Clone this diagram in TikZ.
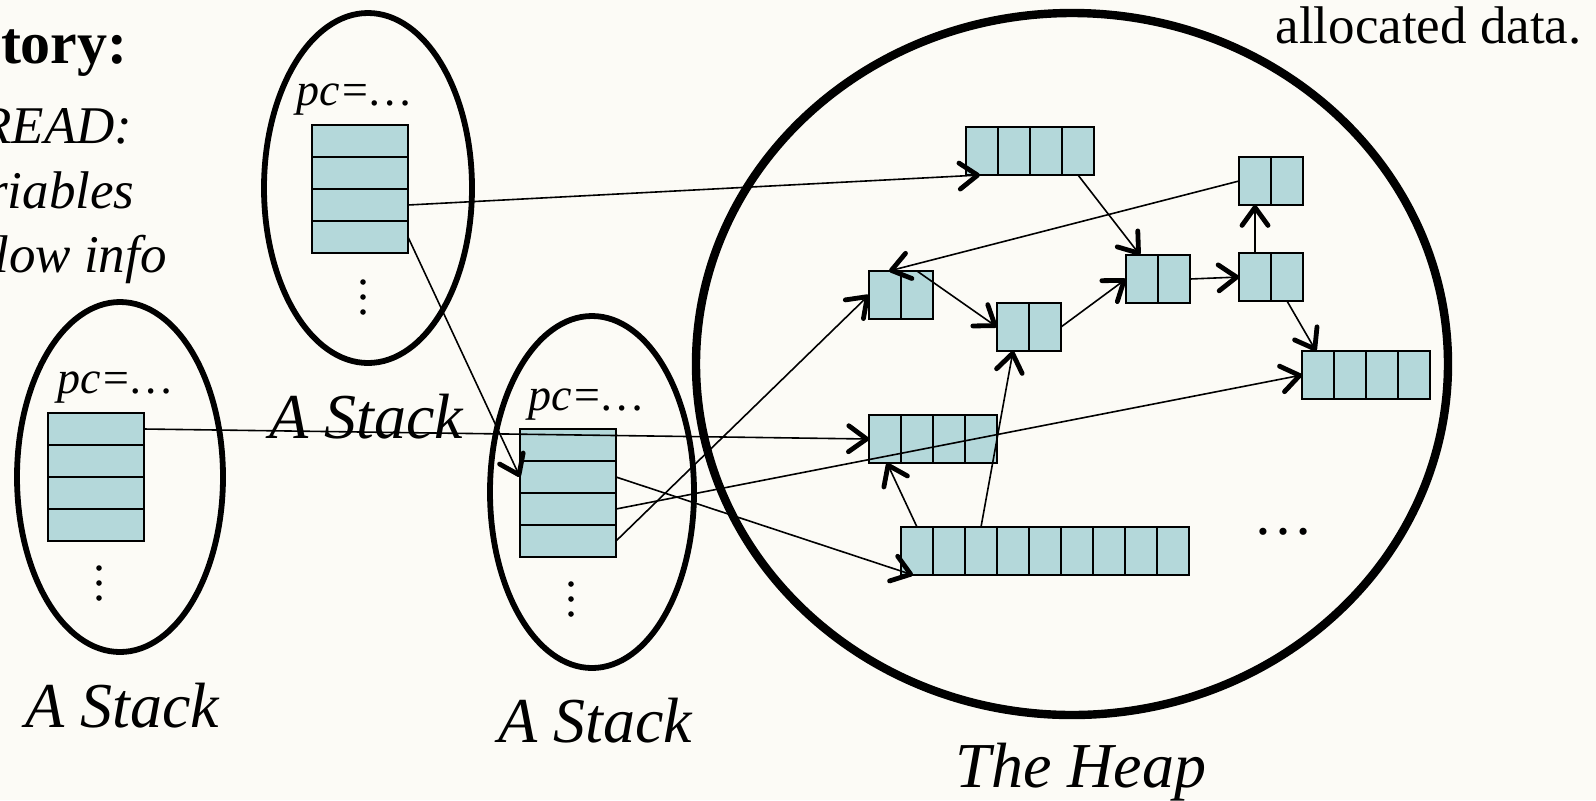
\documentclass[tikz,border=0pt]{standalone}
\usepackage{fontspec}
\setmainfont{Liberation Serif}
\usetikzlibrary{positioning,calc,arrows.meta}
\definecolor{slidebg}{HTML}{FCFBF6}
\definecolor{cellfill}{HTML}{B4D8DA}

% one heap object: name, left, top, number of cells
\newcommand{\heapobj}[4]{%
  \node[cell, minimum width=#4*16pt, minimum height=24pt, anchor=north west] (#1) at (#2,#3) {};
  \foreach \k in {2,...,#4}
    \draw[line width=1pt] ($(#1.north west)+({32*(\k-1)},0)$) -- ++(0,48);
}
% three dots below a stack frame
\newcommand{\moredots}[2]{%
  \foreach \k in {0,1,2}
    \fill ({#1},{#2+15*\k}) circle [radius=2.8];
}

\begin{document}
\begin{tikzpicture}[x=0.5pt,y=-0.5pt,
  cell/.style={draw, fill=cellfill, line width=1pt, inner sep=0pt, outer sep=0pt},
  stackcell/.style={cell, minimum width=48pt, minimum height=16pt},
  frame/.style={line width=2.9pt},
  ptr/.style={line width=0.8pt, -{Straight Barb[round,length=9pt,width=13pt,line width=2.4pt]}},
  lbl/.style={font=\fontsize{32}{38}\selectfont\itshape, inner sep=0pt, anchor=base},
  pcl/.style={font=\fontsize{23}{28}\selectfont\itshape, inner sep=0pt, anchor=base},
  side/.style={font=\fontsize{26.5}{32}\selectfont\itshape, inner sep=0pt, anchor=base east}]
\path[use as bounding box, fill=slidebg] (0,0) rectangle (1596,800);
\clip (0,0) rectangle (1596,800);

% stacks and heap outlines
\draw[frame] (368,188) ellipse [x radius=104, y radius=175];
\draw[frame] (120,477) ellipse [x radius=103, y radius=175];
\draw[frame] (592,492) ellipse [x radius=102, y radius=176];
\draw[line width=4.2pt] (1072,364) ellipse [x radius=376, y radius=351];

% stack frames
\node[stackcell] (T1) at (360,141) {};
\node[stackcell, below=0pt of T1] (T2) {};
\node[stackcell, below=0pt of T2] (T3) {};
\node[stackcell, below=0pt of T3] (T4) {};
\node[stackcell] (L1) at (96,429) {};
\node[stackcell, below=0pt of L1] (L2) {};
\node[stackcell, below=0pt of L2] (L3) {};
\node[stackcell, below=0pt of L3] (L4) {};
\node[stackcell] (M1) at (568,445) {};
\node[stackcell, below=0pt of M1] (M2) {};
\node[stackcell, below=0pt of M2] (M3) {};
\node[stackcell, below=0pt of M3] (M4) {};
\moredots{363}{282}
\moredots{99}{568}
\moredots{571}{584}

% heap objects
\heapobj{H1}{966}{127}{4}
\heapobj{H2}{869}{271}{2}
\heapobj{H3}{997}{303}{2}
\heapobj{H4}{869}{415}{4}
\heapobj{H5}{1126}{255}{2}
\heapobj{H6}{1239}{253}{2}
\heapobj{H7}{1239}{157}{2}
\heapobj{H8}{1302}{351}{4}
\heapobj{H9}{901}{527}{9}

% labels
\node[pcl] (pcT) at (354,105) {pc=\ldots};
\node[pcl] (pcL) at (115,393) {pc=\ldots};
\node[pcl] (pcM) at (586,410) {pc=\ldots};
\node[font=\fontsize{30}{30}\selectfont, inner sep=0pt, anchor=base] (dH) at (1283,534) {…};
\node[lbl] (nameT) at (366,438) {A Stack};
\node[lbl] (nameL) at (122,727) {A Stack};
\node[lbl] (nameM) at (595,742) {A Stack};
\node[lbl] (nameH) at (1081,787) {The Heap};
\node[font=\fontsize{30}{36}\selectfont\bfseries, inner sep=0pt, anchor=base east] (head) at (128,63) {tory:};
\node[side] (s1) at (133,143) {READ:};
\node[side] (s2) at (135,208) {riables};
\node[side] (s3) at (167,272) {low info};
\node[font=\fontsize{26.5}{32}\selectfont, inner sep=0pt, anchor=base east] (note) at (1582,43) {allocated data.};

% pointers
\draw[ptr] (T3.east) -- ($(H1.south west)+(14,0)$);
\draw[ptr] (T4.east) -- (M2.west);
\draw[ptr] (L1.east) -- (H4.west);
\draw[ptr] (M2.east) -- ($(H9.south west)+(12,0)$);
\draw[ptr] (M3.east) -- (H8.west);
\draw[ptr] (M4.east) -- (H2.west);
\draw[ptr] ($(H1.south east)+(-16,0)$) -- ($(H5.north west)+(14,0)$);
\draw[ptr] (H7.west) -- ($(H2.north west)+(20,0)$);
\draw[ptr] ($(H2.north east)+(-16,0)$) -- (H3.west);
\draw[ptr] (H3.east) -- (H5.west);
\draw[ptr] (H5.east) -- (H6.west);
\draw[ptr] ($(H6.north west)+(16,0)$) -- ($(H7.south west)+(16,0)$);
\draw[ptr] ($(H6.south east)+(-16,0)$) -- ($(H8.north west)+(14,0)$);
\draw[ptr] ($(H9.north west)+(16,0)$) -- ($(H4.south west)+(18,0)$);
\draw[ptr] ($(H9.north west)+(80,0)$) -- ($(H3.south west)+(16,0)$);
\end{tikzpicture}
\end{document}
